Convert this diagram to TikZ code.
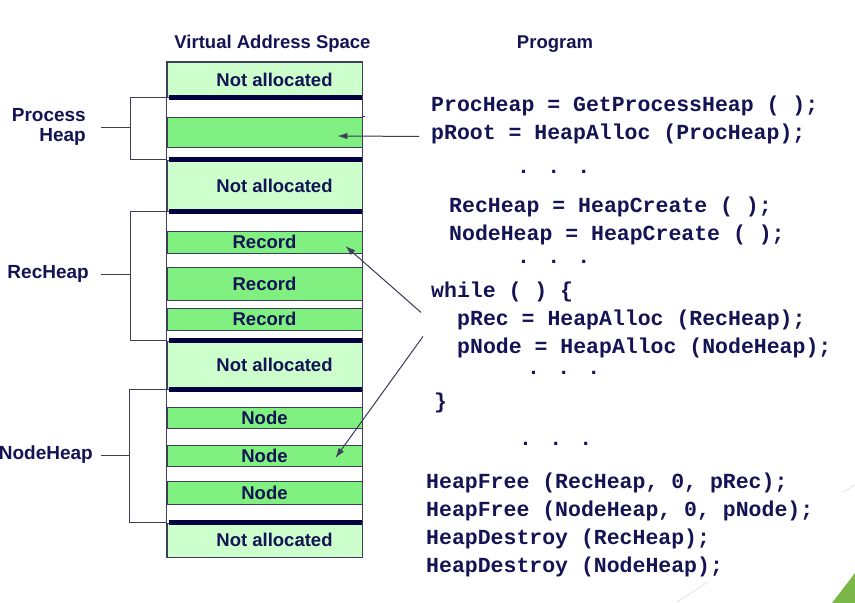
\documentclass[tikz,border=0pt]{standalone}
\usepackage{fontspec}
\setmainfont{Liberation Sans}
\newfontfamily\codefont{Liberation Mono}
\usetikzlibrary{arrows.meta}

\definecolor{navy}{RGB}{20,20,85}
\definecolor{freegreen}{RGB}{204,255,204}
\definecolor{usedgreen}{RGB}{128,240,128}
\definecolor{barblue}{RGB}{0,0,64}
\definecolor{edgegray}{RGB}{60,62,90}
\definecolor{slidegreen}{RGB}{122,182,72}

\tikzstyle{band}      = [draw=edgegray, line width=0.8pt, minimum width=195pt, inner sep=0pt,
                         font=\bfseries\fontsize{18.5}{20}\selectfont, text=navy]
\tikzstyle{freeband}  = [band, fill=freegreen, execute at begin node=\hspace*{20pt}]
\tikzstyle{usedband}  = [band, fill=usedgreen]
\tikzstyle{heapbar}   = [line width=4.5pt, draw=barblue]
\tikzstyle{bracket}   = [line width=0.9pt, draw=edgegray]
\tikzstyle{heaplabel} = [inner sep=0pt, align=right, text=navy,
                         font=\bfseries\fontsize{19}{20}\selectfont]
\tikzstyle{header}    = [inner sep=0pt, text=navy, font=\bfseries\fontsize{18.5}{20}\selectfont]
\tikzstyle{codeline}  = [anchor=base west, inner sep=0pt, text=navy,
                         font=\codefont\bfseries\fontsize{21.5}{24}\selectfont]
\tikzstyle{ptr}       = [-{Latex[length=10pt,width=6.5pt]}, line width=1pt, draw=edgegray, fill=edgegray]

\begin{document}
\begin{tikzpicture}[x=1pt, y=-1pt]
    \useasboundingbox[fill=white] (0,0) rectangle (855,603);
    % address space column
    \foreach \nm/\tp/\bt/\sty/\txt in {na1/62/97/freeband/Not allocated, pheap/117/147/usedband/{},
        na2/160/211/freeband/Not allocated, rec1/231/253/usedband/Record, rec2/267/300/usedband/Record,
        rec3/308/330/usedband/Record, na3/341/389/freeband/Not allocated, node1/407/428/usedband/Node,
        node2/445/466/usedband/Node, node3/481/504/usedband/Node, na4/523/557/freeband/Not allocated} {
      \node[\sty, minimum height={(\bt-\tp)*1pt}] (\nm) at (264.5,{(\tp+\bt)/2}) {\txt};
    }
    \draw[bracket] (na1.north west) rectangle (na4.south east);
    \draw[bracket] (pheap.north east) -- ++(3,0);
    \foreach \n in {na1,na2,na3} {
      \draw[heapbar] ([xshift=2]\n.south west) -- (\n.south east);
    }
    \foreach \n in {na2,na3,na4} {
      \draw[heapbar] ([xshift=2]\n.north west) -- (\n.north east);
    }
    \node[header, anchor=base] (vaslabel) at (272.5,48) {Virtual Address Space};
    \node[header, anchor=base] (proglabel) at (555,48) {Program};

    % heaps
    \draw[bracket] (na1.south west) -- ++(-36,0) coordinate (phbar) |- (na2.north west);
    \draw[bracket] (na2.south west) -- ++(-36,0) coordinate (rhbar) |- (na3.north west);
    \draw[bracket] (na3.south west) -- ++(-37,0) coordinate (nhbar) |- (na4.north west);
    \node[heaplabel, anchor=east] (phlabel) at (86,127) {Process\\Heap};
    \node[heaplabel, anchor=east] (rhlabel) at (89,274) {RecHeap};
    \node[heaplabel, anchor=east] (nhlabel) at (93,455) {NodeHeap};
    \draw[bracket] (phlabel.east) ++(15,0) -- (phbar |- phlabel.east);
    \draw[bracket] (rhlabel.east) ++(12,0) -- (rhbar |- rhlabel.east);
    \draw[bracket] (nhlabel.east) ++(8,0) -- (nhbar |- nhlabel.east);

    % program text
    \foreach \nm/\x/\y/\txt in {getheap/431/111/{ProcHeap = GetProcessHeap ( );},
        proot/431/139/{pRoot = HeapAlloc (ProcHeap);}, dotsa/517/173/{. . .},
        rcreate/449/212/{RecHeap = HeapCreate ( );}, ncreate/449/240/{NodeHeap = HeapCreate ( );},
        dotsb/517/263/{. . .}, loop/431/297/{while ( ) \{},
        prec/457/325/{pRec = HeapAlloc (RecHeap);}, pnode/457/353/{pNode = HeapAlloc (NodeHeap);},
        dotsc/527/374/{. . .}, loopend/434/408/{\}}, dotsd/519/445/{. . .},
        rfree/426/488/{HeapFree (RecHeap, 0, pRec);}, nfree/426/516/{HeapFree (NodeHeap, 0, pNode);},
        rdestroy/426/544/{HeapDestroy (RecHeap);}, ndestroy/426/572/{HeapDestroy (NodeHeap);}} {
      \node[codeline] (\nm) at (\x,\y) {\txt};
    }

    % pointers
    \coordinate (roottip) at ([shift={(-25,4)}]pheap.east);
    \coordinate (rectip) at ([shift={(-17,4)}]rec1.east);
    \coordinate (nodetip) at ([shift={(-27,2.5)}]node2.east);
    \draw[ptr] ([shift={(-12,3)}]proot.west) -- (roottip);
    \draw[ptr] ([shift={(-36,-7)}]prec.west) -- (rectip);
    \draw[ptr] ([shift={(-34,-11)}]pnode.west) -- (nodetip);

    % slide corner
    \fill[slidegreen] (832,603) -- (855,573) -- (855,603) -- cycle;
    \draw[gray!35] (677,602) -- (708,582);
    \draw[gray!35] (843,492) -- (855,485);
  \end{tikzpicture}
\end{document}
